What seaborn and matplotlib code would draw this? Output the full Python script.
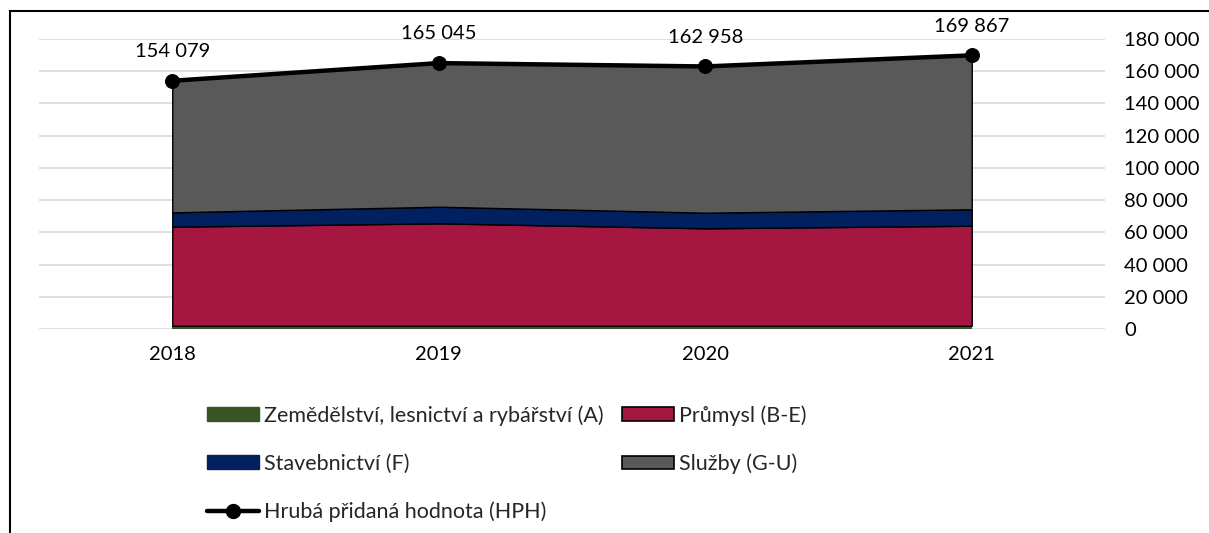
import matplotlib
matplotlib.use("Agg")
import matplotlib.pyplot as plt
import matplotlib.patches as mpatches
from matplotlib.lines import Line2D
from matplotlib.ticker import FuncFormatter
import seaborn as sns
import pandas as pd

years = ["2018", "2019", "2020", "2021"]
agri = [2000, 2000, 2000, 2000]
industry = [61500, 63600, 60500, 62100]
construction = [8900, 10300, 9700, 10200]
hph = [154079, 165045, 162958, 169867]
services = [h - a - i - c for h, a, i, c in zip(hph, agri, industry, construction)]

names = ["Zemědělství, lesnictví a rybářství (A)", "Průmysl (B-E)",
         "Stavebnictví (F)", "Služby (G-U)", "Hrubá přidaná hodnota (HPH)"]
colors = ["#375623", "#A51641", "#002060", "#595959"]

sns.set_theme(style="white")
plt.rcParams["font.family"] = ["Lato", "DejaVu Sans"]

FS = 14.5
LFS = 15.5

fig = plt.figure(figsize=(12.09, 5.33), dpi=100)
ax = fig.add_axes([39/1209, 1-329/533, (1105-39)/1209, 290/533])

x = list(range(len(years)))
polys = ax.stackplot(x, agri, industry, construction, services, colors=colors, zorder=2)
for p, ec in zip(polys, [None, "black", "black", "black"]):
    if ec:
        p.set_edgecolor(ec)
        p.set_linewidth(1.0)
    else:
        p.set_linewidth(0)

df = pd.DataFrame({"x": x, "hph": hph})
sns.lineplot(data=df, x="x", y="hph", ax=ax, color="black", linewidth=3.2,
             marker="o", markersize=10, markeredgecolor="black", zorder=5, clip_on=False)

for xi, v in zip(x, hph):
    ax.annotate(f"{v:,}".replace(",", " "), (xi, v), xytext=(0, 17), textcoords="offset points",
                ha="center", va="baseline", fontsize=FS, color="black")

ax.set_xlim(-0.5, 3.5)
ax.set_ylim(0, 180000)
ax.set_yticks(range(0, 180001, 20000))
ax.yaxis.set_major_formatter(FuncFormatter(lambda v, p: f"{int(v):,}".replace(",", " ")))
ax.yaxis.tick_right()
ax.set_xticks(x)
ax.set_xticklabels(years)
ax.tick_params(axis="both", length=0, labelsize=FS, colors="black")
ax.tick_params(axis="y", pad=14)
ax.tick_params(axis="x", pad=12)
ax.grid(axis="y", color="#d9d9d9", linewidth=1.2, zorder=0)
ax.set_axisbelow(True)
for s in ax.spines.values():
    s.set_visible(False)
ax.set_xlabel("")
ax.set_ylabel("")

h_agri = mpatches.Patch(facecolor=colors[0], edgecolor=colors[0])
h_ind = mpatches.Patch(facecolor=colors[1], edgecolor="black", linewidth=1.2)
h_con = mpatches.Patch(facecolor=colors[2], edgecolor=colors[2])
h_ser = mpatches.Patch(facecolor=colors[3], edgecolor="black", linewidth=1.2)
h_hph = Line2D([0], [0], color="black", linewidth=3.2, marker="o", markersize=10)

common = dict(loc="upper left", frameon=False, fontsize=LFS, handlelength=2.42,
              handleheight=0.56, handletextpad=0.25, labelspacing=1.3, borderaxespad=0,
              borderpad=0)
fig.legend([h_agri, h_con, h_hph], [names[0], names[2], names[4]],
           bbox_to_anchor=(207/1209, 1-405/533), **common)
fig.legend([h_ind, h_ser], [names[1], names[3]],
           bbox_to_anchor=(622/1209, 1-405/533), **common)

frame = mpatches.Rectangle((10/1209, -0.1), 1.2, 1.1 - 11/533, transform=fig.transFigure,
                           fill=False, edgecolor="black", linewidth=1.5, clip_on=False)
fig.patches.append(frame)

fig.savefig("out.png", dpi=100)
